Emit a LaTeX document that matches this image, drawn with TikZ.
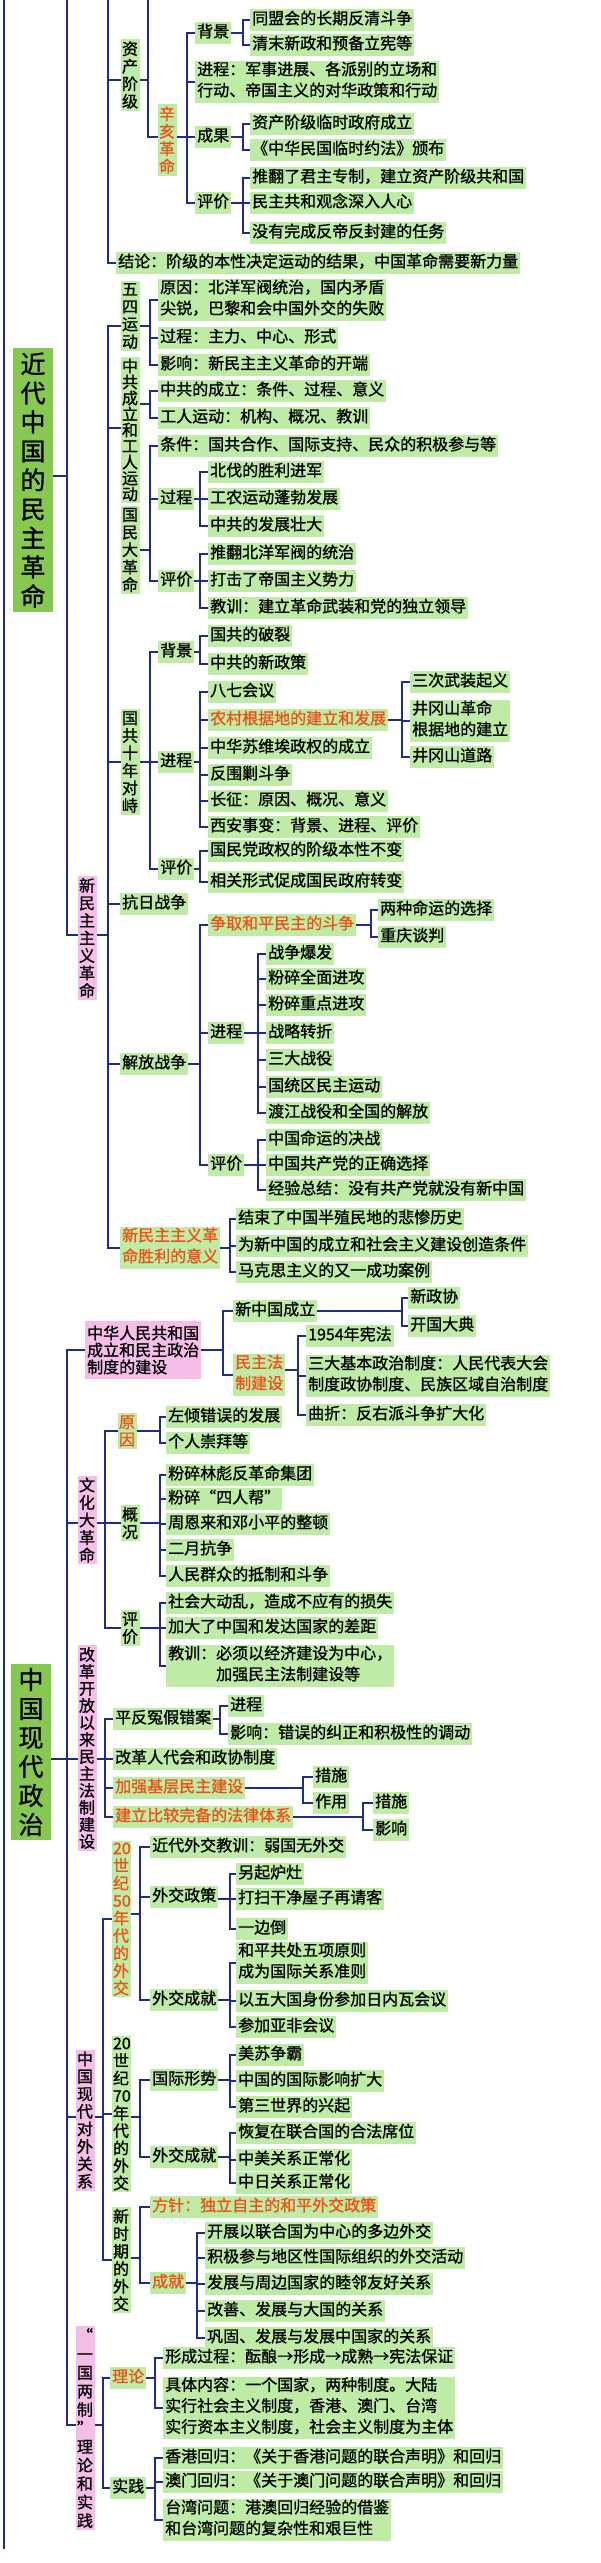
\documentclass[tikz,border=0pt]{standalone}
\usepackage{fontspec}
\newfontfamily\cjk[FakeBold=1]{Noto Sans CJK SC}
\definecolor{gb}{RGB}{190,235,166}
\definecolor{rg}{RGB}{134,200,80}
\definecolor{pk}{RGB}{244,190,232}
\definecolor{lc}{RGB}{30,45,140}
\definecolor{rc}{RGB}{238,80,20}
\pgfdeclarelayer{bg}
\pgfsetlayers{bg,main}
\tikzset{
  ln/.style={draw=lc, line width=1.6pt, line cap=rect},
  t/.style={fill=gb, anchor=west, inner xsep=2pt, inner ysep=0.5pt, align=left,
    font=\cjk\fontsize{16}{21}\selectfont, execute at begin node=\strut, execute at end node=\strut},
  r/.style={t, text=rc},
  v/.style={fill=gb, inner xsep=1.5pt, inner ysep=2pt, align=center, text width=16pt,
    font=\cjk\fontsize{16}{17.5}\selectfont},
  vp/.style={v, fill=pk},
  root/.style={fill=rg, inner xsep=7pt, inner ysep=4pt, align=center, text width=26pt,
    font=\cjk\fontsize{25}{29}\selectfont},
}
\newcommand\brk[4]{%
  \draw[ln] (#1.east |- 0,#2) -- (#3,#2);
  \foreach \c in {#4}{\draw[ln] (#3,#2) |- (\c.west);}%
}
\newcommand\lstub[3]{\draw[ln] (#1,#2) -- (#3.west |- 0,#2);}
\begin{document}
\begin{tikzpicture}[x=1pt,y=-1pt]
\useasboundingbox (0,0) rectangle (600,2563);
\begin{pgfonlayer}{bg}
\fill[white] (0,0) rectangle (600,2563);
\end{pgfonlayer}
% ---------------- upper part ----------------
\node[root] (r1) at (33,480) {近\\代\\中\\国\\的\\民\\主\\革\\命};
\node[v] (zc) at (130,75) {资\\产\\阶\\级};
\node[v,text=rc] (xh) at (167,140) {辛\\亥\\革\\命};
\node[t] (bj1) at (195,33) {背景};
\node[t] (jc1) at (195,82) {进程：军事进展、各派别的立场和\\行动、帝国主义的对华政策和行动};
\node[t] (cg1) at (195,137) {成果};
\node[t] (pj1) at (195,203) {评价};
\node[t] (a1) at (250,20) {同盟会的长期反清斗争};
\node[t] (a2) at (250,45) {清末新政和预备立宪等};
\node[t] (a3) at (250,124) {资产阶级临时政府成立};
\node[t] (a4) at (250,150) {《中华民国临时约法》颁布};
\node[t] (a5) at (250,178) {推翻了君主专制，建立资产阶级共和国};
\node[t] (a6) at (250,203) {民主共和观念深入人心};
\node[t] (a7) at (250,233) {没有完成反帝反封建的任务};
\node[t] (jl) at (116,263) {结论：阶级的本性决定运动的结果，中国革命需要新力量};
\node[vp] (nm) at (87,938) {新\\民\\主\\主\\义\\革\\命};
\node[v] (ws) at (130,316) {五\\四\\运\\动};
\node[t] (b1) at (158,300) {原因：北洋军阀统治，国内矛盾\\尖锐，巴黎和会中国外交的失败};
\node[t] (b2) at (158,338) {过程：主力、中心、形式};
\node[t] (b3) at (158,365) {影响：新民主主义革命的开端};
\node[v,font=\cjk\fontsize{16}{16}\selectfont] (zg) at (130,430) {中\\共\\成\\立\\和\\工\\人\\运\\动};
\node[t] (b4) at (158,391) {中共的成立：条件、过程、意义};
\node[t] (b5) at (158,418) {工人运动：机构、概况、教训};
\node[v] (gm) at (130,550) {国\\民\\大\\革\\命};
\node[t] (b6) at (158,446) {条件：国共合作、国际支持、民众的积极参与等};
\node[t] (b7) at (158,499) {过程};
\node[t] (b8) at (158,581) {评价};
\node[t] (c1) at (208,472) {北伐的胜利进军};
\node[t] (c2) at (208,499) {工农运动蓬勃发展};
\node[t] (c3) at (208,526) {中共的发展壮大};
\node[t] (c4) at (208,554) {推翻北洋军阀的统治};
\node[t] (c5) at (208,581) {打击了帝国主义势力};
\node[t] (c6) at (208,608) {教训：建立革命武装和党的独立领导};
\node[v] (gg) at (130,762) {国\\共\\十\\年\\对\\峙};
\node[t] (b9) at (158,652) {背景};
\node[t] (b10) at (158,762) {进程};
\node[t] (b11) at (158,869) {评价};
\node[t] (c7) at (208,636) {国共的破裂};
\node[t] (c8) at (208,664) {中共的新政策};
\node[t] (c9) at (208,692) {八七会议};
\node[r] (c10) at (208,720) {农村根据地的建立和发展};
\node[t] (c11) at (208,748) {中华苏维埃政权的成立};
\node[t] (c12) at (208,775) {反围剿斗争};
\node[t] (c13) at (208,801) {长征：原因、概况、意义};
\node[t] (c14) at (208,827) {西安事变：背景、进程、评价};
\node[t] (d1) at (410,682) {三次武装起义};
\node[t] (d2) at (410,721) {井冈山革命\\根据地的建立};
\node[t] (d3) at (410,757) {井冈山道路};
\node[t] (c15) at (208,851) {国民党政权的阶级本性不变};
\node[t] (c16) at (208,882) {相关形式促成国民政府转变};
\node[t] (kr) at (120,904) {抗日战争};
\node[t] (jf) at (120,1064) {解放战争};
\node[r] (e1) at (208,925) {争取和平民主的斗争};
\node[t] (e2) at (208,1033) {进程};
\node[t] (e3) at (208,1165) {评价};
\node[t] (f1) at (378,910) {两种命运的选择};
\node[t] (f2) at (378,937) {重庆谈判};
\node[t] (g1) at (266,954) {战争爆发};
\node[t] (g2) at (266,979) {粉碎全面进攻};
\node[t] (g3) at (266,1005) {粉碎重点进攻};
\node[t] (g4) at (266,1033) {战略转折};
\node[t] (g5) at (266,1060) {三大战役};
\node[t] (g6) at (266,1087) {国统区民主运动};
\node[t] (g7) at (266,1113) {渡江战役和全国的解放};
\node[t] (g8) at (266,1140) {中国命运的决战};
\node[t] (g9) at (266,1165) {中国共产党的正确选择};
\node[t] (g10) at (266,1190) {经验总结：没有共产党就没有新中国};
\node[r] (yy) at (120,1248) {新民主主义革\\命胜利的意义};
\node[t] (h1) at (236,1219) {结束了中国半殖民地的悲惨历史};
\node[t] (h2) at (236,1246) {为新中国的成立和社会主义建设创造条件};
\node[t] (h3) at (236,1272) {马克思主义的又一成功案例};
% ---------------- lower part ----------------
\node[root] (r2) at (31,1752) {中\\国\\现\\代\\政\\治};
\node[fill=pk, anchor=west, inner xsep=2pt, inner ysep=5pt, align=left,
  font=\cjk\fontsize{16}{17}\selectfont] (pr) at (85,1350) {中华人民共和国\\成立和民主政治\\制度的建设};
\node[t] (p1) at (233,1311) {新中国成立};
\node[r] (p2) at (233,1375) {民主法\\制建设};
\node[t] (q1) at (408,1298) {新政协};
\node[t] (q2) at (408,1326) {开国大典};
\node[t] (q3) at (306,1336) {1954年宪法};
\node[t] (q4) at (306,1376) {三大基本政治制度：人民代表大会\\制度政协制度、民族区域自治制度};
\node[t] (q5) at (306,1415) {曲折：反右派斗争扩大化};
\node[vp] (wg) at (87,1520) {文\\化\\大\\革\\命};
\node[v,text=rc] (w1) at (127,1431) {原\\因};
\node[v] (w2) at (130,1523) {概\\况};
\node[v] (w3) at (130,1628) {评\\价};
\node[t] (s1) at (166,1417) {左倾错误的发展};
\node[t] (s2) at (166,1443) {个人崇拜等};
\node[t] (s3) at (166,1475) {粉碎林彪反革命集团};
\node[t] (s4) at (166,1499) {粉碎“四人帮”};
\node[t] (s5) at (166,1524) {周恩来和邓小平的整顿};
\node[t] (s6) at (166,1550) {二月抗争};
\node[t] (s7) at (166,1576) {人民群众的抵制和斗争};
\node[t] (s8) at (166,1603) {社会大动乱，造成不应有的损失};
\node[t] (s9) at (166,1628) {加大了中国和发达国家的差距};
\node[t] (s10) at (166,1666) {教训：必须以经济建设为中心，\\\hphantom{教训：}加强民主法制建设等};
\node[vp,font=\cjk\fontsize{16}{17}\selectfont] (gk) at (87,1748) {改\\革\\开\\放\\以\\来\\民\\主\\法\\制\\建\\设};
\node[t] (k1) at (113,1719) {平反冤假错案};
\node[t] (k2) at (113,1759) {改革人代会和政协制度};
\node[r] (k3) at (113,1788) {加强基层民主建设};
\node[r] (k4) at (113,1817) {建立比较完备的法律体系};
\node[t] (m1) at (228,1706) {进程};
\node[t] (m2) at (228,1734) {影响：错误的纠正和积极性的调动};
\node[t] (m3) at (313,1777) {措施};
\node[t] (m4) at (313,1803) {作用};
\node[t] (m5) at (373,1803) {措施};
\node[t] (m6) at (373,1830) {影响};
\node[vp] (dw) at (85,2120) {中\\国\\现\\代\\对\\外\\关\\系};
\node[v,text=rc] (o1) at (121,1919) {20\\世\\纪\\50\\年\\代\\的\\外\\交};
\node[v] (o2) at (121,2114) {20\\世\\纪\\70\\年\\代\\的\\外\\交};
\node[v] (o3) at (121,2260) {新\\时\\期\\的\\外\\交};
\node[t] (n1) at (150,1847) {近代外交教训：弱国无外交};
\node[t] (n2) at (150,1897) {外交政策};
\node[t] (n3) at (150,2000) {外交成就};
\node[t] (n4) at (236,1874) {另起炉灶};
\node[t] (n5) at (236,1899) {打扫干净屋子再请客};
\node[t] (n6) at (236,1929) {一边倒};
\node[t] (n7) at (236,1963) {和平共处五项原则\\成为国际关系准则};
\node[t] (n8) at (236,2001) {以五大国身份参加日内瓦会议};
\node[t] (n9) at (236,2027) {参加亚非会议};
\node[t] (n10) at (150,2080) {国际形势};
\node[t] (n11) at (150,2157) {外交成就};
\node[t] (n12) at (236,2055) {美苏争霸};
\node[t] (n13) at (236,2081) {中国的国际影响扩大};
\node[t] (n14) at (236,2107) {第三世界的兴起};
\node[t] (n15) at (236,2133) {恢复在联合国的合法席位};
\node[t] (n16) at (236,2160) {中美关系正常化};
\node[t] (n17) at (236,2183) {中日关系正常化};
\node[r] (n18) at (150,2207) {方针：独立自主的和平外交政策};
\node[r] (n19) at (150,2283) {成就};
\node[t] (n20) at (205,2233) {开展以联合国为中心的多边外交};
\node[t] (n21) at (205,2258) {积极参与地区性国际组织的外交活动};
\node[t] (n22) at (205,2284) {发展与周边国家的睦邻友好关系};
\node[t] (n23) at (205,2311) {改善、发展与大国的关系};
\node[t] (n24) at (205,2338) {巩固、发展与发展中国家的关系};
\node[vp,font=\cjk\fontsize{16}{18.5}\selectfont] (yg) at (85,2428) {“\\一\\国\\两\\制\\”\\理\\论\\和\\实\\践};
\node[r] (t1) at (110,2378) {理论};
\node[t] (t2) at (110,2488) {实践};
\node[t] (u1) at (163,2358) {形成过程：酝酿→形成→成熟→宪法保证};
\node[t] (u2) at (163,2408) {具体内容：一个国家，两种制度。大陆\\实行社会主义制度，香港、澳门、台湾\\实行资本主义制度，社会主义制度为主体};
\node[t] (u3) at (163,2458) {香港回归：《关于香港问题的联合声明》和回归};
\node[t] (u4) at (163,2482) {澳门回归：《关于澳门问题的联合声明》和回归};
\node[t] (u5) at (163,2520) {台湾问题：港澳回归经验的借鉴\\和台湾问题的复杂性和艰巨性};
% ---------------- connectors ----------------
\begin{pgfonlayer}{bg}
\draw[ln] (4,0) -- (4,2548);
\draw[ln] (67,0) -- (67,935);
\lstub{67}{935}{nm}
\draw[ln] (r1.east |- 0,476) -- (67,476);
\draw[ln] (108,0) -- (108,263);
\lstub{108}{80}{zc}
\lstub{108}{263}{jl}
\draw[ln] (zc.east |- 0,80) -- (148,80);
\draw[ln] (148,0) -- (148,137);
\lstub{148}{137}{xh}
\brk{xh}{137}{187}{bj1,jc1,cg1,pj1}
\brk{bj1}{33}{243}{a1,a2}
\brk{cg1}{137}{243}{a3,a4}
\brk{pj1}{203}{243}{a5,a6,a7}
\draw[ln] (nm.east |- 0,935) -- (108,935);
\draw[ln] (108,326) -- (108,1248);
\lstub{108}{326}{ws}
\lstub{108}{428}{zg}
\lstub{108}{762}{gg}
\lstub{108}{904}{kr}
\lstub{108}{1064}{jf}
\lstub{108}{1248}{yy}
\brk{ws}{326}{150}{b1,b2,b3}
\brk{zg}{404}{150}{b4,b5}
\brk{gm}{550}{150}{b6,b7,b8}
\brk{b7}{499}{200}{c1,c2,c3}
\brk{b8}{581}{200}{c4,c5,c6}
\brk{gg}{762}{150}{b9,b10,b11}
\brk{b9}{652}{200}{c7,c8}
\brk{b10}{762}{200}{c9,c10,c11,c12,c13,c14}
\brk{c10}{720}{402}{d1,d2,d3}
\brk{b11}{869}{200}{c15,c16}
\brk{jf}{1064}{200}{e1,e2,e3}
\brk{e1}{925}{371}{f1,f2}
\brk{e2}{1033}{258}{g1,g2,g3,g4,g5,g6,g7}
\brk{e3}{1165}{258}{g8,g9,g10}
\brk{yy}{1248}{230}{h1,h2,h3}
% lower
\draw[ln] (67,1350) -- (67,2425);
\lstub{67}{1350}{pr}
\lstub{67}{1523}{wg}
\lstub{67}{1759}{gk}
\lstub{67}{2117}{dw}
\lstub{67}{2425}{yg}
\draw[ln] (r2.east |- 0,1759) -- (67,1759);
\brk{pr}{1350}{223}{p1,p2}
\brk{p1}{1311}{402}{q1,q2}
\brk{p2}{1370}{298}{q3,q4,q5}
\brk{wg}{1523}{105}{w1,w2,w3}
\brk{w1}{1431}{160}{s1,s2}
\brk{w2}{1523}{160}{s3,s4,s5,s6,s7}
\brk{w3}{1628}{160}{s8,s9,s10}
\brk{gk}{1759}{105}{k1,k2,k3,k4}
\brk{k1}{1719}{220}{m1,m2}
\brk{k3}{1788}{303}{m3,m4}
\brk{k4}{1817}{363}{m5,m6}
\brk{dw}{2117}{103}{o1,o2,o3}
\brk{o1}{1914}{140}{n1,n2,n3}
\brk{n2}{1899}{230}{n4,n5,n6}
\brk{n3}{2000}{230}{n7,n8,n9}
\brk{o2}{2117}{140}{n10,n11}
\brk{n10}{2080}{230}{n12,n13,n14}
\brk{n11}{2157}{230}{n15,n16,n17}
\brk{o3}{2258}{140}{n18,n19}
\brk{n19}{2283}{197}{n20,n21,n22,n23,n24}
\brk{yg}{2425}{103}{t1,t2}
\brk{t1}{2378}{155}{u1,u2}
\brk{t2}{2488}{155}{u3,u4,u5}
\end{pgfonlayer}
\end{tikzpicture}
\end{document}
